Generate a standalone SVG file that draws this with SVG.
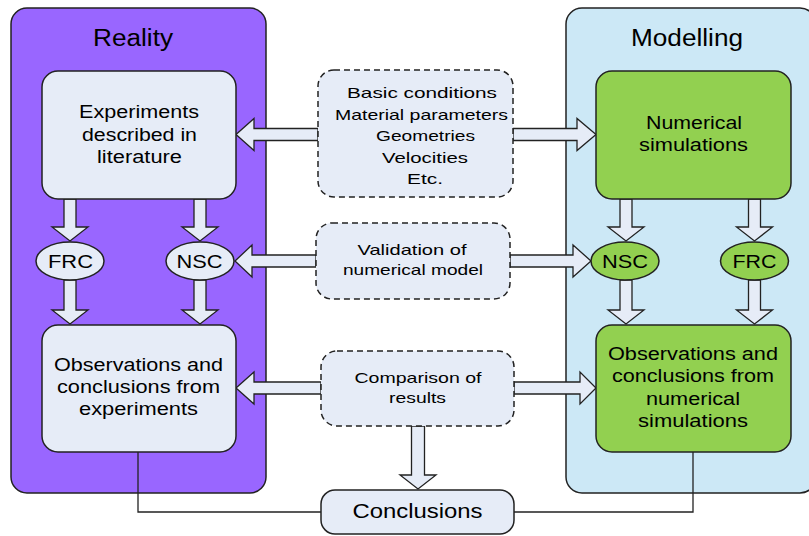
<svg xmlns="http://www.w3.org/2000/svg" width="809" height="536" viewBox="0 0 809 536">
<style>
text{font-family:"Liberation Sans",Arial,sans-serif;fill:#000;text-anchor:middle}
.big{stroke:#222;stroke-width:1.5}
.box{fill:#E6ECF7;stroke:#222;stroke-width:1.5}
.gbox{fill:#92D050;stroke:#222;stroke-width:1.5}
.dash{fill:#E6ECF7;stroke:#222;stroke-width:1.5;stroke-dasharray:6,4}
.arr{fill:#E6ECF7;stroke:#222;stroke-width:1.3;stroke-linejoin:miter}
.line{fill:none;stroke:#222;stroke-width:1.3}
.t17{font-size:17.5px}
.t15{font-size:15px}
.t23{font-size:23px}
.el{font-size:19px}
</style>
<rect width="809" height="536" fill="#fff"/>
<g id="reality">
<rect class="big" x="11" y="8" width="255" height="485" rx="16" fill="#9966FF"/>
<text class="t23" x="133" y="46" textLength="80" lengthAdjust="spacingAndGlyphs">Reality</text>
</g>
<g id="modelling">
<rect class="big" x="566" y="8" width="250" height="485" rx="16" fill="#CCE8F6"/>
<text class="t23" x="687" y="46" textLength="112" lengthAdjust="spacingAndGlyphs">Modelling</text>
</g>
<g id="connectors">
<polyline class="line" points="138,452 138,512 321,512"/>
<polyline class="line" points="693,452 693,512 514,512"/>
<polygon class="arr" points="64,199 76,199 76,227 88,227 70,241 52,227 64,227"/>
<polygon class="arr" points="194,199 206,199 206,227 218,227 200,241 182,227 194,227"/>
<polygon class="arr" points="64,280 76,280 76,310 88,310 70,324 52,310 64,310"/>
<polygon class="arr" points="194,280 206,280 206,310 218,310 200,324 182,310 194,310"/>
<polygon class="arr" points="620,199 632,199 632,227 644,227 626,241 608,227 620,227"/>
<polygon class="arr" points="748.5,199 760.5,199 760.5,227 772.5,227 754.5,241 736.5,227 748.5,227"/>
<polygon class="arr" points="620,280 632,280 632,310 644,310 626,324 608,310 620,310"/>
<polygon class="arr" points="748.5,280 760.5,280 760.5,310 772.5,310 754.5,324 736.5,310 748.5,310"/>
<polygon class="arr" points="318,128.5 318,140.5 254,140.5 254,150.5 236,134.5 254,118.5 254,128.5"/>
<polygon class="arr" points="513,128.5 513,140.5 577,140.5 577,150.5 596,134.5 577,118.5 577,128.5"/>
<polygon class="arr" points="316,255 316,267 252,267 252,277 235,261 252,245 252,255"/>
<polygon class="arr" points="510,255 510,267 573,267 573,277 591,261 573,245 573,255"/>
<polygon class="arr" points="321,382 321,394 254,394 254,404 236,388 254,372 254,382"/>
<polygon class="arr" points="514,382 514,394 580,394 580,404 596,388 580,372 580,382"/>
<polygon class="arr" points="411.5,426 424.5,426 424.5,475 436,475 418,489 400,475 411.5,475"/>
</g>
<g id="experiments">
<rect class="box" x="42" y="71" width="194" height="128" rx="16"/>
<text class="t17" x="139" y="118" textLength="120" lengthAdjust="spacingAndGlyphs">Experiments</text>
<text class="t17" x="139.5" y="141" textLength="115" lengthAdjust="spacingAndGlyphs">described in</text>
<text class="t17" x="139.5" y="163" textLength="85" lengthAdjust="spacingAndGlyphs">literature</text>
</g>
<g id="numerical">
<rect class="gbox" x="596" y="71" width="195" height="128" rx="16"/>
<text class="t17" x="694" y="129" textLength="96" lengthAdjust="spacingAndGlyphs">Numerical</text>
<text class="t17" x="693.5" y="151" textLength="109" lengthAdjust="spacingAndGlyphs">simulations</text>
</g>
<g id="basic">
<rect class="dash" x="318" y="70" width="195" height="127" rx="16"/>
<text class="t15" x="422" y="98" textLength="150" lengthAdjust="spacingAndGlyphs">Basic conditions</text>
<text class="t15" x="421.5" y="119.5" textLength="173" lengthAdjust="spacingAndGlyphs">Material parameters</text>
<text class="t15" x="425.5" y="141" textLength="99" lengthAdjust="spacingAndGlyphs">Geometries</text>
<text class="t15" x="425" y="162.5" textLength="86" lengthAdjust="spacingAndGlyphs">Velocities</text>
<text class="t15" x="425" y="184" textLength="36" lengthAdjust="spacingAndGlyphs">Etc.</text>
</g>
<g id="validation">
<rect class="dash" x="316" y="223" width="194" height="76" rx="16"/>
<text class="t15" x="412" y="255" textLength="109" lengthAdjust="spacingAndGlyphs">Validation of</text>
<text class="t15" x="413" y="275" textLength="140" lengthAdjust="spacingAndGlyphs">numerical model</text>
</g>
<g id="frc-left">
<ellipse class="box" cx="70" cy="261" rx="34" ry="19"/>
<text class="el" x="70.5" y="268" textLength="45" lengthAdjust="spacingAndGlyphs">FRC</text>
</g>
<g id="nsc-left">
<ellipse class="box" cx="200" cy="261" rx="34" ry="19"/>
<text class="el" x="199.5" y="268" textLength="46" lengthAdjust="spacingAndGlyphs">NSC</text>
</g>
<g id="nsc-right">
<ellipse class="gbox" cx="625" cy="261" rx="34" ry="19"/>
<text class="el" x="625" y="268" textLength="46" lengthAdjust="spacingAndGlyphs">NSC</text>
</g>
<g id="frc-right">
<ellipse class="gbox" cx="754.5" cy="261" rx="34" ry="19"/>
<text class="el" x="754.5" y="268" textLength="44" lengthAdjust="spacingAndGlyphs">FRC</text>
</g>
<g id="obs-left">
<rect class="box" x="42" y="325" width="194" height="127" rx="16"/>
<text class="t17" x="138.5" y="371" textLength="169" lengthAdjust="spacingAndGlyphs">Observations and</text>
<text class="t17" x="138.5" y="393" textLength="163" lengthAdjust="spacingAndGlyphs">conclusions from</text>
<text class="t17" x="138.5" y="415" textLength="119" lengthAdjust="spacingAndGlyphs">experiments</text>
</g>
<g id="obs-right">
<rect class="gbox" x="596" y="325" width="195" height="127" rx="16"/>
<text class="t17" x="693" y="360" textLength="170" lengthAdjust="spacingAndGlyphs">Observations and</text>
<text class="t17" x="693" y="382" textLength="162" lengthAdjust="spacingAndGlyphs">conclusions from</text>
<text class="t17" x="693" y="405" textLength="94" lengthAdjust="spacingAndGlyphs">numerical</text>
<text class="t17" x="693" y="427" textLength="110" lengthAdjust="spacingAndGlyphs">simulations</text>
</g>
<g id="comparison">
<rect class="dash" x="321" y="351" width="193" height="75" rx="16"/>
<text class="t15" x="418" y="383" textLength="127" lengthAdjust="spacingAndGlyphs">Comparison of</text>
<text class="t15" x="417.5" y="403" textLength="57" lengthAdjust="spacingAndGlyphs">results</text>
</g>
<g id="conclusions">
<rect class="box" x="321" y="490" width="193" height="44" rx="14"/>
<text x="417.5" y="518" style="font-size:20px" textLength="130" lengthAdjust="spacingAndGlyphs">Conclusions</text>
</g>
</svg>
